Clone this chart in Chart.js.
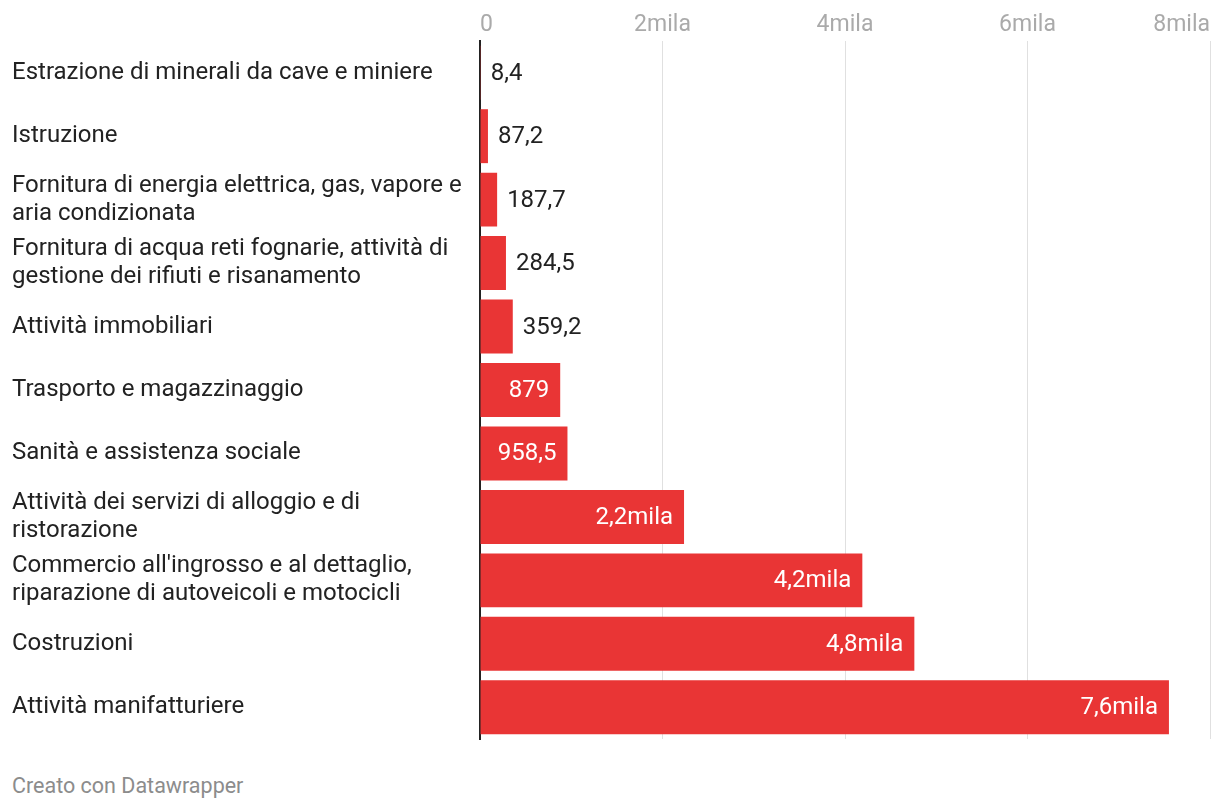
<!DOCTYPE html>
<html>
<head>
<meta charset="utf-8">
<script src="https://cdn.jsdelivr.net/npm/chart.js@4.4.1/dist/chart.umd.min.js"></script>
<style>
  html, body { margin: 0; padding: 0; background: #fff; }
  #wrap { position: relative; width: 1220px; height: 812px; }
  #chartBox { position: absolute; left: 0; top: 0; width: 1220px; height: 750px; }
  #credit {
    position: absolute; left: 12px; top: 773px;
    font-family: Roboto, sans-serif; font-size: 21.5px; color: #8c8c8c;
  }
</style>
</head>
<body>
<div id="wrap">
  <div id="chartBox"><canvas id="chart"></canvas></div>
  <div id="credit">Creato con Datawrapper</div>
</div>
<script>
const sectors = [
  ["Estrazione di minerali da cave e miniere"],
  ["Istruzione"],
  ["Fornitura di energia elettrica, gas, vapore e", "aria condizionata"],
  ["Fornitura di acqua reti fognarie, attività di", "gestione dei rifiuti e risanamento"],
  ["Attività immobiliari"],
  ["Trasporto e magazzinaggio"],
  ["Sanità e assistenza sociale"],
  ["Attività dei servizi di alloggio e di", "ristorazione"],
  ["Commercio all'ingrosso e al dettaglio,", "riparazione di autoveicoli e motocicli"],
  ["Costruzioni"],
  ["Attività manifatturiere"]
];
const values = [8.4, 87.2, 187.7, 284.5, 359.2, 879, 958.5, 2236, 4190, 4760, 7550];
const valueLabels = ["8,4", "87,2", "187,7", "284,5", "359,2", "879", "958,5", "2,2mila", "4,2mila", "4,8mila", "7,6mila"];
const xTicks = [0, 2000, 4000, 6000, 8000];

const FONT = "Roboto, sans-serif";
const RED = "#e93535";

// labels inside the bar when it is wide enough, outside otherwise
const valueLabelPlugin = {
  id: "valueLabels",
  afterDatasetsDraw(chart) {
    const ctx = chart.ctx;
    const meta = chart.getDatasetMeta(0);
    ctx.save();
    ctx.font = "24px " + FONT;
    ctx.textBaseline = "middle";
    meta.data.forEach((bar, i) => {
      const inside = values[i] > 700;
      if (inside) {
        ctx.fillStyle = "#ffffff";
        ctx.textAlign = "right";
        ctx.fillText(valueLabels[i], bar.x - 11, bar.y + 1);
      } else {
        ctx.fillStyle = "#222222";
        ctx.textAlign = "left";
        ctx.fillText(valueLabels[i], bar.x + 10, bar.y + 1);
      }
    });
    ctx.restore();
  }
};

new Chart(document.getElementById("chart"), {
  type: "bar",
  data: {
    labels: sectors,
    datasets: [
      {
        data: values,
        backgroundColor: RED,
        borderWidth: 0,
        barPercentage: 0.85,
        categoryPercentage: 1
      }
    ]
  },
  options: {
    indexAxis: "y",
    responsive: true,
    maintainAspectRatio: false,
    animation: false,
    layout: { padding: { left: 12, right: 10, top: 0, bottom: 11 } },
    plugins: {
      legend: { display: false },
      tooltip: { enabled: false }
    },
    scales: {
      x: {
        position: "top",
        min: 0,
        max: 8000,
        afterBuildTicks: (scale) => {
          scale.ticks = xTicks.map((v) => ({ value: v }));
        },
        afterFit: (scale) => {
          scale.height = 41;
        },
        grid: { color: "#e0e0e0", lineWidth: 1, drawTicks: false },
        border: { display: false },
        ticks: {
          align: "inner",
          padding: 2,
          color: "#aaaaaa",
          font: { family: FONT, size: 23 },
          callback: (v) => (v === 0 ? "0" : v / 1000 + "mila")
        }
      },
      y: {
        afterFit: (scale) => {
          scale.width = 468;
          scale.paddingTop = 0;
          scale.paddingBottom = 0;
        },
        grid: { display: false, drawTicks: false },
        border: { display: true, color: "#222222", width: 2 },
        ticks: {
          crossAlign: "far",
          padding: 0,
          color: "#222222",
          font: { family: FONT, size: 24, lineHeight: "28px" }
        }
      }
    }
  },
  plugins: [valueLabelPlugin]
});
</script>
</body>
</html>
